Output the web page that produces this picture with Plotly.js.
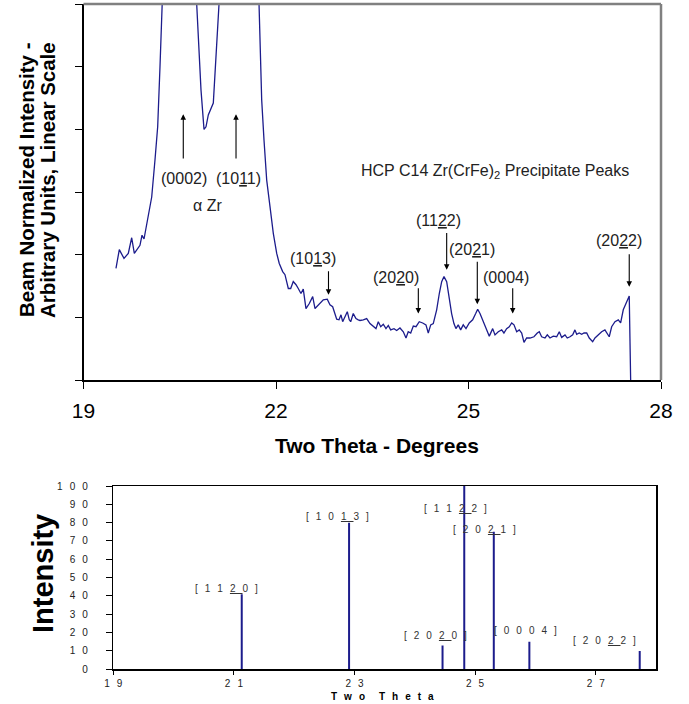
<!DOCTYPE html>
<html>
<head>
<meta charset="utf-8">
<script src="https://cdn.plot.ly/plotly-3.0.1.min.js"></script>
<style>html,body{margin:0;padding:0;background:#fff;}#chart{width:689px;height:704px;}</style>
</head>
<body>
<div id="chart"></div>
<script>
// ---- Upper panel: measured diffraction scan (beam normalized intensity, arbitrary units) ----
const twoTheta = [
  19.506, 19.558, 19.631, 19.698, 19.751, 19.792, 19.880, 19.912, 19.943, 19.994,
  20.063, 20.114, 20.156, 20.192, 20.228, 20.350, 20.500, 20.650, 20.764, 20.831,
  20.878, 20.909, 20.945, 21.023, 21.065, 21.112, 21.250, 21.400, 21.600, 21.740,
  21.777, 21.813, 21.855, 21.906, 21.958, 22.011, 22.051, 22.104, 22.140, 22.192,
  22.229, 22.269, 22.312, 22.347, 22.389, 22.425, 22.467, 22.519, 22.572, 22.608,
  22.675, 22.737, 22.799, 22.841, 22.883, 22.946, 22.982, 23.013, 23.039, 23.075,
  23.111, 23.142, 23.164, 23.204, 23.246, 23.282, 23.309, 23.360, 23.413, 23.465,
  23.516, 23.558, 23.594, 23.632, 23.672, 23.714, 23.750, 23.787, 23.839, 23.881,
  23.932, 23.984, 24.026, 24.061, 24.099, 24.140, 24.182, 24.233, 24.286, 24.337,
  24.373, 24.411, 24.451, 24.504, 24.545, 24.582, 24.618, 24.660, 24.701, 24.737,
  24.773, 24.804, 24.840, 24.878, 24.918, 24.961, 25.012, 25.065, 25.112, 25.143,
  25.179, 25.221, 25.257, 25.283, 25.324, 25.377, 25.413, 25.464, 25.517, 25.552,
  25.594, 25.635, 25.673, 25.709, 25.751, 25.791, 25.829, 25.865, 25.906, 25.958,
  26.020, 26.072, 26.103, 26.140, 26.192, 26.228, 26.270, 26.321, 26.374, 26.415,
  26.452, 26.504, 26.539, 26.582, 26.624, 26.659, 26.686, 26.726, 26.764, 26.800,
  26.842, 26.882, 26.935, 26.971, 27.022, 27.075, 27.126, 27.162, 27.193, 27.231,
  27.283, 27.334, 27.371, 27.412, 27.465, 27.505, 27.527
];
const intensity = [
  1.78, 2.08, 1.94, 2.02, 2.27, 2.02, 2.15, 2.31, 2.25, 2.55,
  2.92, 3.51, 4.04, 5.00, 6.01, 10.5, 14.0, 10.5, 6.00, 4.63,
  4.00, 4.04, 4.23, 4.42, 5.11, 6.00, 11.0, 16.0, 11.0, 6.00,
  4.47, 3.83, 3.19, 2.77, 2.34, 2.02, 1.86, 1.73, 1.68, 1.46,
  1.46, 1.57, 1.52, 1.46, 1.38, 1.45, 1.14, 1.22, 1.33, 1.14,
  1.22, 1.28, 1.29, 1.20, 1.17, 0.97, 0.96, 1.04, 0.93, 1.01,
  1.09, 0.96, 0.93, 1.06, 0.98, 0.96, 0.95, 0.96, 0.98, 0.90,
  0.86, 0.82, 0.93, 0.85, 0.89, 0.82, 0.87, 0.80, 0.82, 0.79,
  0.83, 0.77, 0.67, 0.77, 0.75, 0.86, 0.85, 0.93, 0.91, 0.88,
  0.75, 0.88, 0.90, 1.12, 1.38, 1.57, 1.65, 1.57, 1.30, 1.06,
  0.90, 0.82, 0.88, 0.80, 0.88, 0.82, 0.91, 0.96, 1.06, 1.13,
  1.06, 0.96, 0.88, 0.80, 0.70, 0.82, 0.72, 0.77, 0.80, 0.75,
  0.82, 0.85, 0.91, 0.88, 0.77, 0.80, 0.75, 0.60, 0.67, 0.67,
  0.69, 0.75, 0.77, 0.69, 0.67, 0.72, 0.67, 0.70, 0.69, 0.77,
  0.68, 0.72, 0.67, 0.69, 0.72, 0.80, 0.73, 0.75, 0.73, 0.75,
  0.75, 0.67, 0.61, 0.67, 0.72, 0.77, 0.80, 0.75, 0.69, 0.85,
  0.93, 0.96, 0.91, 1.12, 1.25, 1.34, 0.00
];
const topXTicks = [19, 22, 25, 28];
const topXTickText = ['19', '22', '25', '28'];
const topYTicks = [0, 1, 2, 3, 4, 5, 6];

// ---- Lower panel: reference stick pattern ----
const stickTwoTheta = [21.13, 22.91, 24.46, 24.82, 25.31, 25.90, 27.73];
const stickIntensity = [41, 80, 13, 100, 75, 15, 10];
const stickHkl = ['1120', '1013', '2020', '1122', '2021', '0004', '2022'];
const stickBarIndex = [2, 2, 2, 2, 2, -1, 2];
const bottomXTicks = [19, 21, 23, 25, 27];
const bottomXTickText = ['19', '21', '23', '25', '27'];
const bottomYTicks = [0, 10, 20, 30, 40, 50, 60, 70, 80, 90, 100];
const bottomYTickText = ['0', '10', '20', '30', '40', '50', '60', '70', '80', '90', '100'];

// ---- text helpers ----
const GAP = '\u2002\u2009';
const spaced = s => s.split('').join(GAP);
function bracketLabel(hkl, bar) {
  const parts = hkl.split('').map((c, i) => i === bar ? '<u>' + c + GAP + '</u>' : c + GAP);
  return '[' + GAP + parts.join('') + ']';
}
function parenLabel(hkl, bar) {
  return '(' + hkl.split('').map((c, i) => i === bar ? '<u>' + c + '</u>' : c).join('') + ')';
}

const W = 689, H = 704;
const FONT = 'Arial, "Liberation Sans", sans-serif';
const navy = '#1c1c8c';

// stick segments
const sx = [], sy = [];
stickTwoTheta.forEach((x, i) => { sx.push(x, x, null); sy.push(0, stickIntensity[i], null); });

const traces = [
  { x: twoTheta, y: intensity, type: 'scatter', mode: 'lines', xaxis: 'x', yaxis: 'y',
    line: { color: navy, width: 1.3 }, hoverinfo: 'skip' },
  { x: sx, y: sy, type: 'scatter', mode: 'lines', xaxis: 'x2', yaxis: 'y2',
    line: { color: navy, width: 2 }, hoverinfo: 'skip' }
];

// upper panel labels and arrows
const topLabels = [
  { t: parenLabel('0002', -1), x: 20.566, y: 3.22 },
  { t: parenLabel('1011', 2), x: 21.423, y: 3.22 },
  { t: '\u03b1 Zr', x: 20.932, y: 2.79 },
  { t: parenLabel('1013', 2), x: 22.569, y: 1.94 },
  { t: 'HCP C14 Zr(CrFe)<sub>2</sub> Precipitate Peaks', x: 25.42, y: 3.32 },
  { t: parenLabel('1122', 2), x: 24.537, y: 2.55 },
  { t: parenLabel('2021', 2), x: 25.05, y: 2.09 },
  { t: parenLabel('2020', 2), x: 23.875, y: 1.63 },
  { t: parenLabel('0004', -1), x: 25.592, y: 1.63 },
  { t: parenLabel('2022', 2), x: 27.342, y: 2.23 }
];
const topArrows = [
  { x: 20.555, tip: 4.24, tail: 3.51 },
  { x: 21.377, tip: 4.24, tail: 3.51 },
  { x: 22.818, tip: 1.36, tail: 1.76 },
  { x: 24.660, tip: 1.76, tail: 2.37 },
  { x: 25.137, tip: 1.21, tail: 1.91 },
  { x: 24.218, tip: 1.06, tail: 1.49 },
  { x: 25.689, tip: 1.06, tail: 1.49 },
  { x: 27.505, tip: 1.49, tail: 2.03 }
];
const bottomLabelPos = [
  { x: 20.869, y: 44.2 }, { x: 22.722, y: 83.3 }, { x: 24.342, y: 18.7 },
  { x: 24.672, y: 87.8 }, { x: 25.163, y: 76.5 }, { x: 25.829, y: 21.1 }, { x: 27.14, y: 15.6 }
];

const annotations = [];
topLabels.forEach(l => annotations.push({
  xref: 'x', yref: 'y', x: l.x, y: l.y, text: l.t, showarrow: false,
  xanchor: 'center', yanchor: 'middle', font: { family: FONT, size: 16, color: '#222' }
}));
topArrows.forEach(a => annotations.push({
  xref: 'x', yref: 'y', x: a.x, y: a.tip, axref: 'x', ayref: 'y', ax: a.x, ay: a.tail,
  text: '', showarrow: true, arrowhead: 2, arrowsize: 1, arrowwidth: 1.1, arrowcolor: '#000', standoff: 0
}));
stickHkl.forEach((h, i) => annotations.push({
  xref: 'x2', yref: 'y2', x: bottomLabelPos[i].x, y: bottomLabelPos[i].y,
  text: bracketLabel(h, stickBarIndex[i]), showarrow: false, xanchor: 'center', yanchor: 'middle',
  font: { family: FONT, size: 10, color: '#333' }
}));
// axis titles
annotations.push({
  xref: 'paper', yref: 'paper', x: 27 / W, y: 1 - 180 / H, xanchor: 'center', yanchor: 'middle',
  text: '<b>Beam Normalized Intensity -</b>', textangle: -90,
  showarrow: false, font: { family: FONT, size: 20.5, color: '#000' }
});
annotations.push({
  xref: 'paper', yref: 'paper', x: 48 / W, y: 1 - 180 / H, xanchor: 'center', yanchor: 'middle',
  text: '<b>Arbitrary Units, Linear Scale</b>', textangle: -90,
  showarrow: false, font: { family: FONT, size: 20.5, color: '#000' }
});
annotations.push({
  xref: 'paper', yref: 'paper', x: 377 / W, y: 1 - 445 / H, xanchor: 'center', yanchor: 'middle',
  text: '<b>Two Theta - Degrees</b>', showarrow: false, font: { family: FONT, size: 21, color: '#000' }
});
annotations.push({
  xref: 'paper', yref: 'paper', x: 43 / W, y: 1 - 574 / H, xanchor: 'center', yanchor: 'middle',
  text: '<b>Intensity</b>', textangle: -90, showarrow: false, font: { family: FONT, size: 29, color: '#000' }
});
annotations.push({
  xref: 'paper', yref: 'paper', x: 382 / W, y: 1 - 696 / H, xanchor: 'center', yanchor: 'middle',
  text: '<b>' + spaced('Two') + GAP + GAP + spaced('Theta') + '</b>', showarrow: false,
  font: { family: FONT, size: 10, color: '#000' }
});

const layout = {
  width: W, height: H, margin: { l: 0, r: 0, t: 0, b: 0 }, showlegend: false,
  paper_bgcolor: '#fff', plot_bgcolor: '#fff', font: { family: FONT, color: '#000' },
  xaxis: {
    domain: [83.5 / W, 661 / W], range: [19, 28], tickvals: topXTicks, ticktext: topXTickText,
    ticks: 'outside', ticklen: 7, tickwidth: 1, tickcolor: '#000', showline: true, linecolor: '#000',
    linewidth: 1.5, showgrid: false, zeroline: false, tickfont: { size: 21, family: FONT }, ticklabelstandoff: 4,
    anchor: 'y', fixedrange: true
  },
  yaxis: {
    domain: [1 - 380 / H, 1 - 4 / H], range: [0, 6], tickvals: topYTicks, showticklabels: false,
    ticks: 'outside', ticklen: 7, tickwidth: 1, tickcolor: '#000', showline: true, linecolor: '#000',
    linewidth: 1.5, showgrid: false, zeroline: false, anchor: 'x', fixedrange: true
  },
  xaxis2: {
    domain: [113.3 / W, 656 / W], range: [19, 28], tickvals: bottomXTicks, ticktext: bottomXTickText.map(spaced),
    ticks: 'outside', ticklen: 4, tickwidth: 1, tickcolor: '#000', showline: true, mirror: true, linecolor: '#000',
    linewidth: 1.5, showgrid: false, zeroline: false, tickfont: { size: 10, family: FONT, color: '#222' },
    anchor: 'y2', fixedrange: true
  },
  yaxis2: {
    domain: [1 - 669.3 / H, 1 - 486 / H], range: [0, 100], tickvals: bottomYTicks, ticktext: bottomYTickText.map(spaced),
    ticks: 'outside', ticklen: 6, tickwidth: 1, tickcolor: '#000', showline: true, mirror: true, linecolor: '#000',
    linewidth: 1.5, showgrid: false, zeroline: false, tickfont: { size: 10, family: FONT, color: '#222' },
    ticklabelstandoff: 16, anchor: 'x2', fixedrange: true
  },
  shapes: [
    { type: 'line', xref: 'x domain', yref: 'y domain', x0: 0, x1: 1, y0: 1, y1: 1, line: { color: '#808080', width: 2.5 } },
    { type: 'line', xref: 'x domain', yref: 'y domain', x0: 1, x1: 1, y0: 0, y1: 1, line: { color: '#808080', width: 2.5 } }
  ],
  annotations: annotations
};

Plotly.newPlot('chart', traces, layout, { staticPlot: true, displayModeBar: false });
</script>
</body>
</html>
